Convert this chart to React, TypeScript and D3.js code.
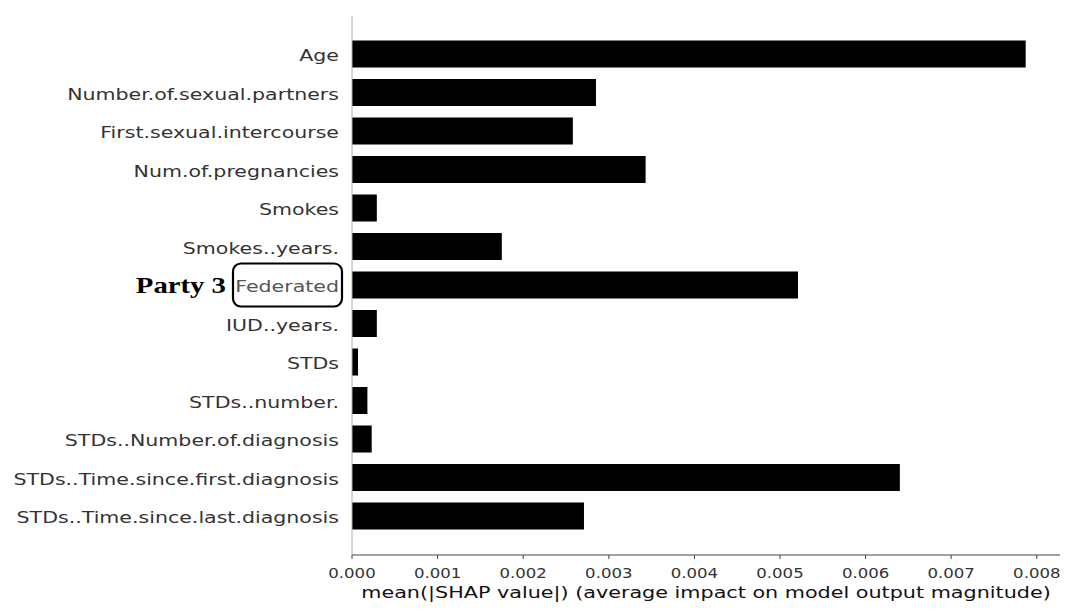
import React from "react";
import * as d3 from "d3";

const features = [
  "Age",
  "Number.of.sexual.partners",
  "First.sexual.intercourse",
  "Num.of.pregnancies",
  "Smokes",
  "Smokes..years.",
  "Federated",
  "IUD..years.",
  "STDs",
  "STDs..number.",
  "STDs..Number.of.diagnosis",
  "STDs..Time.since.first.diagnosis",
  "STDs..Time.since.last.diagnosis",
];
const shapValues = [
  0.00787, 0.00285, 0.00258, 0.00343, 0.00029, 0.00175, 0.00521, 0.00029,
  0.00007, 0.00018, 0.00023, 0.0064, 0.00271,
];
const tickValues = [0, 0.001, 0.002, 0.003, 0.004, 0.005, 0.006, 0.007, 0.008];
const xLabel = "mean(|SHAP value|) (average impact on model output magnitude)";
const annotation = "Party 3";
const highlighted = "Federated";

export default function App() {
  const W = 1076;
  const H = 615;
  const x0 = 352;
  const x = d3.scaleLinear().domain([0, 0.008]).range([x0, x0 + 8 * 85.6]);
  const step = 38.5;
  const yc = (f: string) => 54 + features.indexOf(f) * step;
  const bh = 27;
  const axisY = 555;
  const sx = 1.245;
  const font = "'DejaVu Sans', sans-serif";
  const hlIdx = features.indexOf(highlighted);
  const tr = (tx: number, ty: number, s = sx) => `translate(${tx},${ty}) scale(${s},1)`;

  return (
    <svg
      width={W}
      height={H}
      style={{ position: "absolute", left: 0, top: 0, background: "#fff" }}
    >
      {features.map((f, i) => (
        <rect
          key={f}
          x={x(0)}
          y={yc(f) - bh / 2}
          width={x(shapValues[i]) - x(0)}
          height={bh}
          fill="#000"
        />
      ))}
      <line x1={x0} x2={x0} y1={16} y2={axisY} stroke="#aaa" strokeWidth={1} />
      <line x1={x0} x2={1060} y1={axisY} y2={axisY} stroke="#444" strokeWidth={1.2} />
      {tickValues.map((t) => (
        <g key={t}>
          <line x1={x(t)} x2={x(t)} y1={axisY} y2={axisY + 4} stroke="#444" strokeWidth={1} />
          <text
            transform={tr(x(t), axisY + 22.5, 1.2)}
            textAnchor="middle"
            fontFamily={font}
            fontSize={13.8}
            fill="#333"
          >
            {d3.format(".3f")(t)}
          </text>
        </g>
      ))}
      <text
        transform={tr((362 + 1050) / 2, 598, 1.255)}
        textAnchor="middle"
        fontFamily={font}
        fontSize={16.5}
        fill="#111"
      >
        {xLabel}
      </text>
      {features.map((f, i) => (
        <text
          key={f}
          transform={tr(339, yc(f) + 7)}
          textAnchor="end"
          fontFamily={font}
          fontSize={16.5}
          fill={i === hlIdx ? "#555" : "#333"}
        >
          {f}
        </text>
      ))}
      <rect
        x={233}
        y={yc(highlighted) - 21.5}
        width={109}
        height={43}
        rx={8}
        ry={8}
        fill="none"
        stroke="#000"
        strokeWidth={2.2}
      />
      <text
        transform={tr(226, yc(highlighted) + 8, 1.25)}
        textAnchor="end"
        fontFamily="'Liberation Serif', 'Times New Roman', serif"
        fontWeight="bold"
        fontSize={23}
        fill="#000"
      >
        {annotation}
      </text>
    </svg>
  );
}
